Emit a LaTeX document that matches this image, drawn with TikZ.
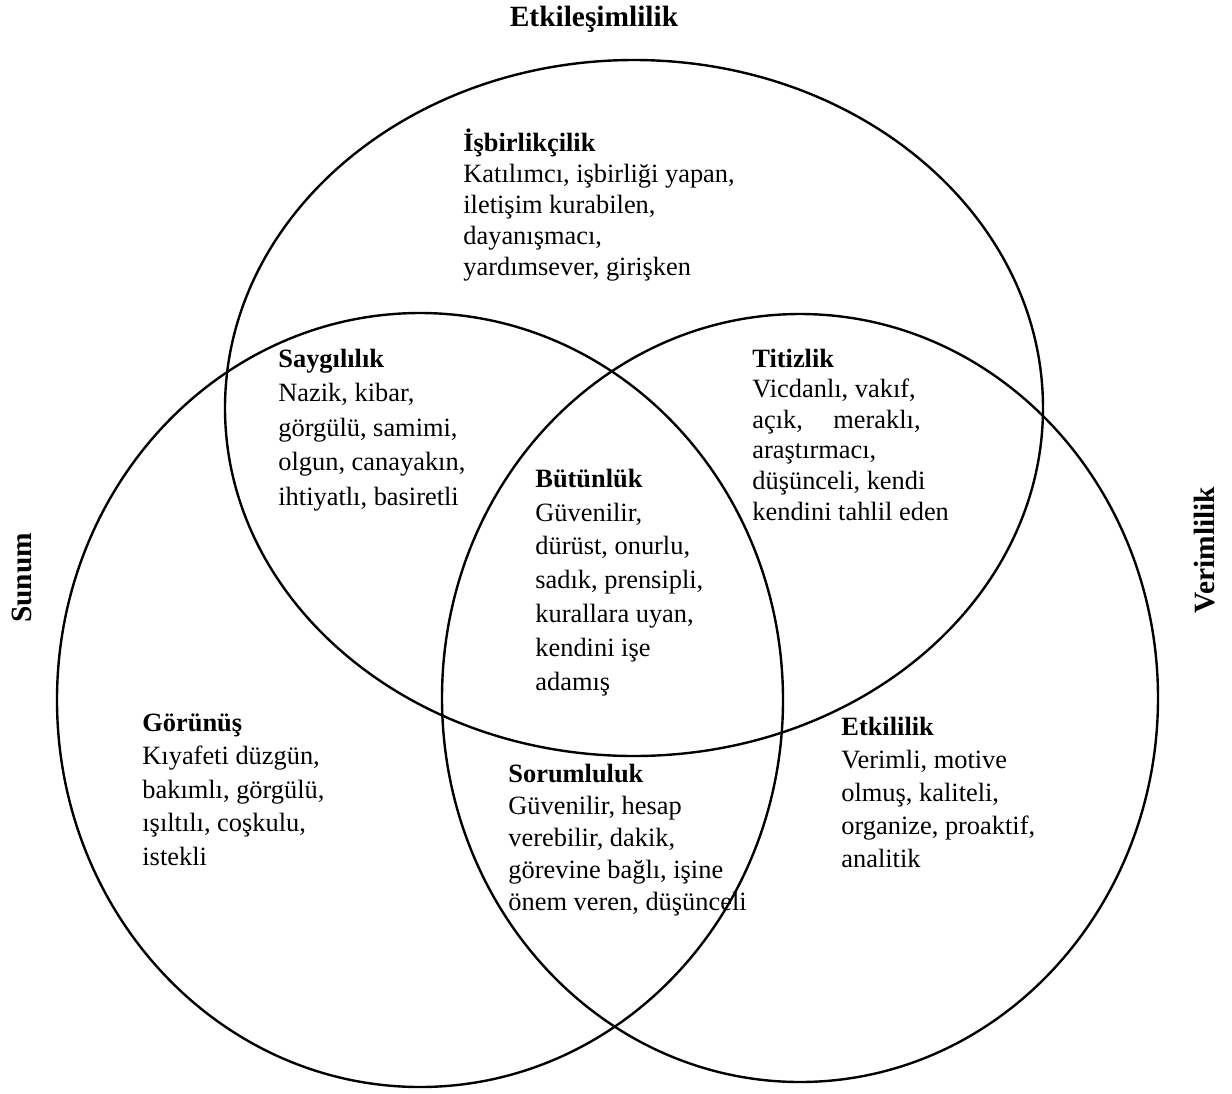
\documentclass[tikz,border=0pt]{standalone}
\usepackage{fontspec}
\setmainfont{Liberation Serif}
\usetikzlibrary{positioning}

\begin{document}
\begin{tikzpicture}[x=0.5pt, y=-0.5pt,
  ring/.style={line width=1.2pt},
  regiontext/.style={align=left, anchor=base west, inner sep=0pt, font=\fontsize{13.2pt}{#1}\selectfont},
  regiontext/.default=16pt,
  settitle/.style={font=\fontsize{14.7pt}{17pt}\selectfont\bfseries, inner sep=0pt}]
  \useasboundingbox (0,0) rectangle (1232,1093);

  % Three sets
  \draw[ring] (634,408) ellipse [x radius=409, y radius=348];
  \draw[ring] (420,700) ellipse [x radius=363, y radius=387];
  \draw[ring] (800,698) ellipse [x radius=358, y radius=384];

  % Set titles
  \node[settitle, anchor=base] (topTitle) at (594,26) {Etkileşimlilik};
  \node[settitle, rotate=90] (leftTitle) at (22,578) {Sunum};
  \node[settitle, rotate=90] (rightTitle) at (1205,550) {Verimlilik};

  % Single regions (placed at the baseline of the last line)
  \node[regiontext=15.4pt] (isbirlik) at (463,275) {\textbf{İşbirlikçilik}\\Katılımcı, işbirliği yapan,\\iletişim kurabilen,\\dayanışmacı,\\yardımsever, girişken};
  \node[regiontext=16.75pt] (gorunus) at (142,865) {\textbf{Görünüş}\\Kıyafeti düzgün,\\bakımlı, görgülü,\\ışıltılı, coşkulu,\\istekli};
  \node[regiontext=16.4pt] (etkililik) at (841,867) {\textbf{Etkililik}\\Verimli, motive\\olmuş, kaliteli,\\organize, proaktif,\\analitik};

  % Pairwise overlaps
  \node[regiontext=17.2pt] (saygi) at (278,505) {\textbf{Saygılılık}\\Nazik, kibar,\\görgülü, samimi,\\olgun, canayakın,\\ihtiyatlı, basiretli};
  \node[regiontext=15.3pt] (titiz) at (752,520) {\textbf{Titizlik}\\Vicdanlı, vakıf,\\açık,\hspace{0.9em} meraklı,\\araştırmacı,\\düşünceli, kendi\\kendini tahlil eden};
  \node[regiontext=15.9pt] (sorum) at (508,910) {\textbf{Sorumluluk}\\Güvenilir, hesap\\verebilir, dakik,\\görevine bağlı, işine\\önem veren, düşünceli};

  % Centre
  \node[regiontext=16.9pt] (butun) at (535,690) {\textbf{Bütünlük}\\Güvenilir,\\dürüst, onurlu,\\sadık, prensipli,\\kurallara uyan,\\kendini işe\\adamış};
\end{tikzpicture}
\end{document}
